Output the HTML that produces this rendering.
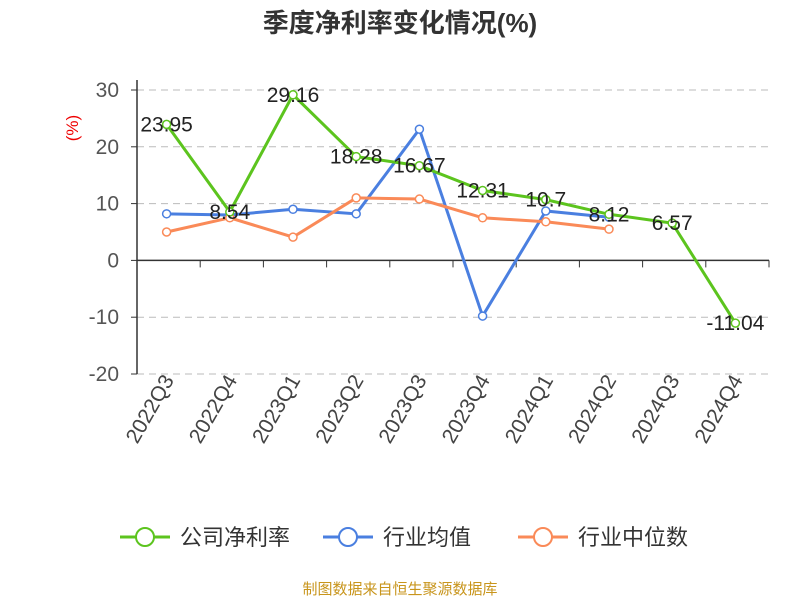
<!DOCTYPE html>
<html><head><meta charset="utf-8"><style>
body{margin:0;background:#fff;}
svg text{font-family:"Liberation Sans","Noto Sans CJK SC",sans-serif;}
</style></head><body>
<svg id="c" width="800" height="600" xmlns="http://www.w3.org/2000/svg">
<text x="400" y="32" text-anchor="middle" font-size="26" font-weight="bold" fill="#333">季度净利率变化情况(%)</text>
<text x="78" y="128" text-anchor="middle" font-size="17" fill="#e00" transform="rotate(-90 78 128)">(%)</text>
<g id="grid"></g><g id="axes"></g><g id="series"></g>
<g id="legend"></g>
<text x="400" y="594" text-anchor="middle" font-size="15" fill="#c8951c">制图数据来自恒生聚源数据库</text>
</svg>
<script>
const categories=["2022Q3","2022Q4","2023Q1","2023Q2","2023Q3","2023Q4","2024Q1","2024Q2","2024Q3","2024Q4"];
const companyValues=[23.95,8.54,29.16,18.28,16.67,12.31,10.7,8.12,6.57,-11.04];
const industryAvg=[8.2,8.0,9.0,8.2,23.1,-9.8,8.7,7.6];
const industryMedian=[5.0,7.5,4.1,11.0,10.8,7.5,6.8,5.5];
const yTicks=[30,20,10,0,-10,-20];
const seriesNames=["公司净利率","行业均值","行业中位数"];
const colors=["#5cc41e","#4a7fe0","#fa8a58"];
const NS="http://www.w3.org/2000/svg";
const x0=137,x1=769,yTop=90,yBot=374,vMax=30,vMin=-20;
const band=(x1-x0)/categories.length;
const xs=i=>x0+band*(i+0.5)-2;
const ys=v=>yTop+(vMax-v)/(vMax-vMin)*(yBot-yTop);
function mk(tag,attrs,parent,txt){const e=document.createElementNS(NS,tag);for(const k in attrs)e.setAttribute(k,attrs[k]);if(txt!==undefined)e.textContent=txt;document.getElementById(parent).appendChild(e);return e;}
yTicks.forEach(t=>{
  if(t!==0){const g=mk('line',{x1:x0,x2:x1,y1:ys(t),y2:ys(t),stroke:'#bbb','stroke-dasharray':'7,5'},'grid');
  
  }
  const l=mk('text',{x:x0-18,y:ys(t)+7,'text-anchor':'end','font-size':21,fill:'#555'},'axes',t);
  
  
  const tk=mk('line',{x1:x0-6,x2:x0,y1:ys(t),y2:ys(t),stroke:'#333'},'axes');
  
  
});
const ya=mk('line',{x1:x0,x2:x0,y1:yTop-10,y2:yBot,stroke:'#333','stroke-width':1.5},'axes');


const xa=mk('line',{x1:x0,x2:x1,y1:ys(0),y2:ys(0),stroke:'#333','stroke-width':1.5},'axes');


for(let i=0;i<=categories.length;i++){
  const tk=mk('line',{x1:x0+band*i,x2:x0+band*i,y1:ys(0),y2:ys(0)+7,stroke:'#333'},'axes');
  
  
}
categories.forEach((c,i)=>{
  const x=xs(i)+8,y=380;
  const t=mk('text',{x:x,y:y,'text-anchor':'end','font-size':21,fill:'#444',transform:`rotate(-60 ${x} ${y})`},'axes',c);
  
  
});
function drawSeries(vals,color,name,labels){
  const pts=vals.map((v,i)=>xs(i)+','+ys(v)).join(' ');
  const p=mk('polyline',{points:pts,fill:'none',stroke:color,'stroke-width':3},'series');
  
  
  vals.forEach((v,i)=>{
    const c=mk('circle',{cx:xs(i),cy:ys(v),r:4,fill:'#fff',stroke:color,'stroke-width':1.5},'series');
    
    
  });
  if(labels)vals.forEach((v,i)=>{
    const t=mk('text',{x:xs(i),y:ys(v)+7,'text-anchor':'middle','font-size':21,fill:'#222'},'series',String(v));
    
    
  });
}
drawSeries(industryAvg,colors[1],'industry-average',false);
drawSeries(industryMedian,colors[2],'industry-median',false);
drawSeries(companyValues,colors[0],'company-net-margin',true);
const lx=[120,323,518];
seriesNames.forEach((n,i)=>{
  const g=mk('g',{},'legend');
  
  
  const l=document.createElementNS(NS,'line');
  l.setAttribute('x1',lx[i]);l.setAttribute('x2',lx[i]+50);l.setAttribute('y1',537);l.setAttribute('y2',537);l.setAttribute('stroke',colors[i]);l.setAttribute('stroke-width',3);g.appendChild(l);
  const c=document.createElementNS(NS,'circle');
  c.setAttribute('cx',lx[i]+25);c.setAttribute('cy',537);c.setAttribute('r',9);c.setAttribute('fill','#fff');c.setAttribute('stroke',colors[i]);c.setAttribute('stroke-width',2);g.appendChild(c);
  const t=document.createElementNS(NS,'text');
  t.setAttribute('x',lx[i]+60);t.setAttribute('y',545);t.setAttribute('font-size',22);t.setAttribute('fill','#333');t.textContent=n;g.appendChild(t);
});
</script>
</body></html>
